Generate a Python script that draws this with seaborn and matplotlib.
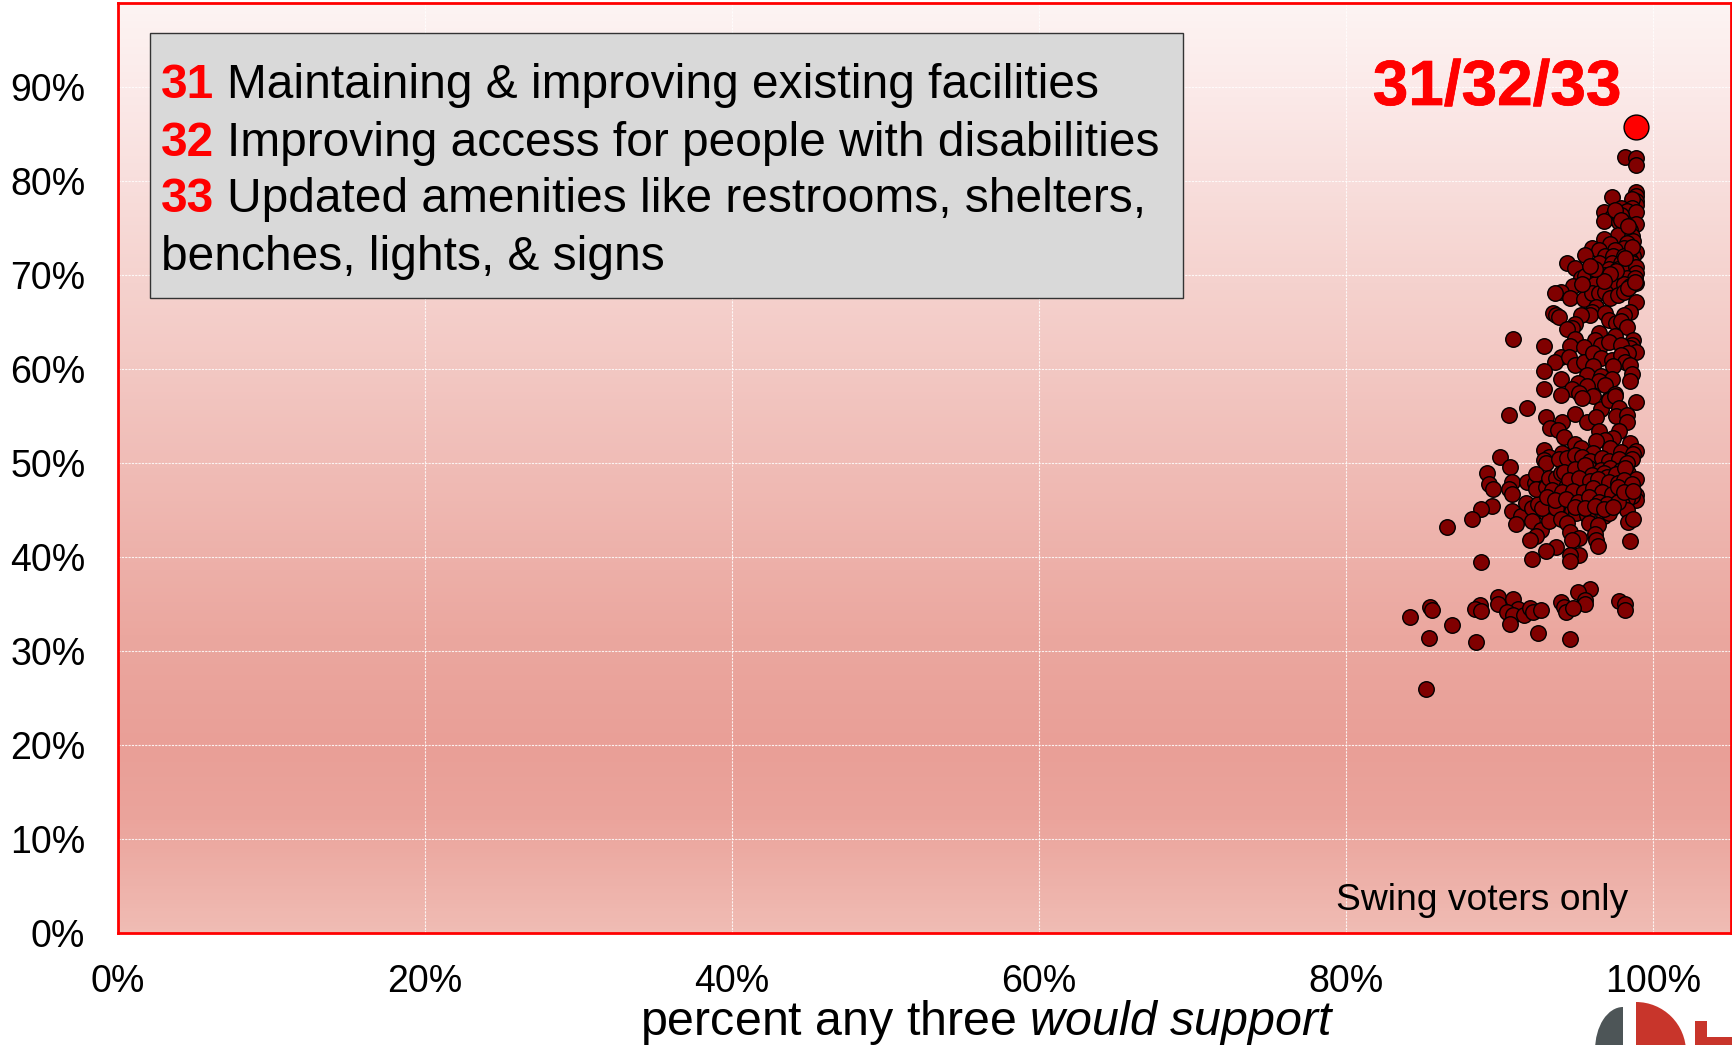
import numpy as np
import pandas as pd
import matplotlib
matplotlib.use("Agg")
import matplotlib.pyplot as plt
import matplotlib.patheffects as pe
from matplotlib.colors import LinearSegmentedColormap
from matplotlib.patches import Wedge, Rectangle
from matplotlib.transforms import Affine2D
import seaborn as sns

sns.set_style("white")
plt.rcParams['font.family'] = ['Liberation Sans', 'DejaVu Sans']
plt.rcParams['mathtext.fontset'] = 'custom'
plt.rcParams['mathtext.it'] = 'Liberation Sans:italic'
plt.rcParams['mathtext.rm'] = 'Liberation Sans'

support_top = [98.2,98.9,98.9]
share_top = [82.6,82.4,81.7]

support_a = [98.9,98.9,98.9,98.9,98.6,97.3,97.9,98.6,98.3,98.9,96.8,97.3,97.6,97.9,96.8,97.8,98.9,98.5,98.2,97.7,98.6,98.7,96.8,97.2,98.3,96.0,98.1,96.5,97.5,98.9,98.7,96.9,97.4,98.1,95.6,98.5,94.4,96.5,97.3,97.9,98.6,94.9,97.1,97.7,98.3,98.9,98.9,95.3,95.6,96.4,96.9,97.5,97.9,98.3,98.8,98.9,94.8,95.6,96.2,97.1,97.6,98.1,98.5,94.0,93.6,94.6,95.5,96.0,96.5,96.9,97.2,97.7,98.1,98.4,98.8]
share_a = [78.8,78.4,77.9,77.5,78.1,78.3,77.1,77.1,76.8,76.7,76.7,76.2,76.3,76.4,75.7,75.6,75.4,74.8,74.5,74.3,74.1,73.6,73.8,73.3,73.4,72.9,72.9,72.7,72.7,72.5,72.0,72.0,72.0,72.0,72.1,71.6,71.3,71.3,71.3,71.3,71.3,70.7,70.6,70.6,70.8,70.9,70.2,69.7,69.9,69.9,70.0,69.7,69.7,69.7,69.7,69.2,68.8,68.8,69.0,69.1,69.0,69.0,68.8,68.2,68.1,67.6,67.5,68.1,68.1,68.2,67.6,67.9,68.2,68.6,69.3]

support_b = [98.9,98.5,98.1,96.3,96.0,95.9,95.3,96.9,97.1,97.6,97.9,98.3,93.5,93.7,93.9,94.9,94.7,94.4,96.5,97.5,96.2,98.7,98.6,98.5,94.9,94.6,95.5,96.6,97.1,97.9,98.9,98.4,92.9,90.9,94.0,93.6,94.5,94.9,95.5,96.1,96.6,97.3,97.9,98.2,98.5,97.4,92.9,96.1,98.6,98.5,94.0,95.7,96.6,97.3,96.5,96.9,92.9,95.1,95.7,94.7,94.0,95.2,96.1,97.1,97.5,98.9,95.4]
share_b = [67.1,66.1,65.7,66.6,66.1,65.7,65.7,66.0,65.2,64.9,65.1,64.5,66.0,65.7,65.5,64.8,64.4,64.3,63.8,63.5,63.1,63.1,62.6,62.2,63.2,62.4,62.3,62.6,62.9,62.6,61.8,61.7,62.4,63.2,61.3,60.7,61.3,60.4,60.8,61.7,61.2,61.0,61.5,60.8,60.4,60.3,59.8,60.3,59.5,58.7,58.9,59.4,59.3,58.9,58.7,58.3,57.9,58.5,58.2,57.9,57.2,57.4,57.1,56.8,57.3,56.5,56.9]

support_c = [90.6,91.8,93.0,94.1,94.9,95.7,96.6,96.3,97.1,97.5,97.8,97.6,98.3,98.3,93.3,93.8,94.2,96.5,97.8,97.4,96.9,98.5,94.9,95.3,96.3,96.1,97.2,97.9,98.9,98.7,92.9,94.1,93.2,92.9,93.0,93.9,94.4,94.9,95.4,95.9,96.7,97.1,97.8,98.6,98.3,90.0,90.7,89.2,89.3,89.6,90.8,90.6,90.8,89.5,88.8,88.2,86.6,90.8,91.4,91.1,91.7,92.1,92.5,92.1,92.7,92.4,92.0,91.8,92.3,92.4,92.4,93.0,93.2,93.7,94.0,93.5,93.2,93.0,93.2,92.8,93.8,94.3,94.6,95.4,95.8,96.6,97.2,97.9,98.4,98.9,94.8,95.3,95.8,96.6,97.2,97.5,97.9,98.3,98.9,98.9,98.6,98.3,98.0,98.3,97.4,96.9,96.5,96.2,95.4,95.0,94.3,93.7,94.7,94.0,95.0,95.7,95.8,96.8,97.1,96.4,96.2,96.3,96.4,98.4,98.7,98.5,94.4,94.6,95.2,94.7,93.7,93.0,92.1,95.2,94.6,94.6,88.8]
share_c = [55.1,55.9,54.9,54.4,55.2,54.4,55.7,54.9,56.7,57.1,55.9,55.0,55.1,54.4,53.7,53.5,52.8,53.4,53.4,52.7,52.4,52.1,52.0,51.6,52.3,51.1,51.6,51.2,51.3,51.0,51.4,51.1,50.6,50.3,50.0,50.4,50.5,50.9,50.6,50.2,50.5,50.2,50.4,50.4,50.0,50.6,49.6,48.9,47.8,47.2,48.0,47.2,46.7,45.4,45.1,44.0,43.2,44.9,44.4,43.5,45.7,45.2,45.6,43.8,42.9,42.2,41.8,48.0,47.9,48.8,47.2,47.5,48.4,48.4,48.9,46.8,45.8,44.7,43.8,45.2,46.5,47.5,48.8,48.9,49.5,49.3,49.5,49.3,48.9,48.3,47.9,47.5,47.2,47.5,47.4,48.2,47.0,47.5,46.6,46.1,46.5,46.2,45.6,45.0,46.6,46.1,46.3,46.8,45.9,46.5,45.6,45.2,44.9,44.0,44.7,44.5,43.6,44.4,44.7,43.4,42.4,41.8,41.2,43.7,44.0,41.7,43.6,42.7,42.0,41.8,41.1,40.6,39.8,40.2,40.2,39.6,39.5]

support_d = [95.9,95.1,95.6,95.6,94.0,94.2,94.3,94.8,97.8,98.2,98.2,89.9,89.9,90.9,91.2,90.5,90.9,90.7,91.6,92.0,92.2,92.7,88.7,88.4,88.8,85.5,85.6,84.2,86.9,85.4,88.5,92.5,94.6,85.2]
share_d = [36.6,36.3,35.4,35.0,35.2,34.7,34.2,34.6,35.3,35.0,34.4,35.7,35.0,35.5,34.5,34.1,33.8,32.9,33.8,34.6,34.1,34.4,34.9,34.5,34.3,34.7,34.4,33.6,32.8,31.4,31.0,31.9,31.3,26.0]

support_fill = [94.2,94.9,95.6,96.0,96.8,97.0,97.6,98.2,94.5,95.2,95.9,96.4,97.1,97.7,98.1,93.4,94.1,94.8,95.5,96.1,96.7,97.3,97.7,98.6,93.1,93.6,94.3,95.1,95.8,96.5,97.0,97.7,94.9,95.6,96.2,96.8,97.4,98.1,98.7,97.5,97.9,98.4,98.6,98.2,97.6,97.2,96.8,96.2,95.9,95.4]
share_fill = [49.0,49.4,49.8,48.7,48.9,48.5,48.8,49.5,48.2,48.4,48.1,48.3,48.0,47.9,48.2,47.1,46.9,47.0,46.9,47.3,46.9,46.7,47.4,47.8,46.4,46.1,46.2,45.9,46.4,45.8,45.6,45.9,45.3,45.2,45.4,45.1,45.3,46.9,47.0,76.9,75.9,75.2,73.0,71.8,70.4,70.1,69.4,70.6,71.0,69.0]

highlight_support = [98.9]
highlight_share = [85.7]

x_ticks = [0, 20, 40, 60, 80, 100]
y_ticks = [0, 10, 20, 30, 40, 50, 60, 70, 80, 90]

legend_rows = [("31", "Maintaining & improving existing facilities"),
               ("32", "Improving access for people with disabilities"),
               ("33", "Updated amenities like restrooms, shelters,"),
               ("", "benches, lights, & signs")]

df = pd.DataFrame({
    "support": support_top + support_a + support_b + support_c + support_d + support_fill,
    "share": share_top + share_a + share_b + share_c + share_d + share_fill,
})
hi = pd.DataFrame({"support": highlight_support, "share": highlight_share})

W, H = 1732, 1045
fig = plt.figure(figsize=(W / 100, H / 100), dpi=100, facecolor="white")
ax = fig.add_axes([118 / W, 1 - 933 / H, (1731 - 118) / W, (933 - 3) / H])

cmap = LinearSegmentedColormap.from_list("bg", [
    (0.00, "#fdf4f3"), (0.10, "#fbe9e8"), (0.30, "#f5d2ce"), (0.50, "#f0bcb6"),
    (0.68, "#eba79f"), (0.80, "#e99f97"), (0.88, "#eba49c"), (1.00, "#f0bcb4")])
ax.imshow(np.linspace(0, 1, 256).reshape(-1, 1), aspect="auto", cmap=cmap,
          extent=(0, 105.08, 0, 98.94), origin="upper", zorder=0)

ax.set_axisbelow(False)
ax.grid(True, color="white", lw=0.8, ls=(0, (2, 1)), alpha=0.85)
for line in ax.get_xgridlines() + ax.get_ygridlines():
    line.set_zorder(1)

sns.scatterplot(data=df, x="support", y="share", ax=ax, s=125, color="#800000",
                edgecolor="black", linewidth=1, zorder=3, legend=False)
sns.scatterplot(data=hi, x="support", y="share", ax=ax, s=320, color="#ff0000",
                edgecolor="black", linewidth=1, zorder=4, legend=False)

ax.set_xlim(0, 105.08)
ax.set_ylim(0, 98.94)
ax.set_xticks(x_ticks)
ax.set_yticks(y_ticks)
ax.set_xticklabels([f"{v}%" for v in x_ticks], fontsize=27)
ax.set_yticklabels([f"{v}%" for v in y_ticks], fontsize=27)
ax.tick_params(axis="both", length=0, colors="black")
ax.tick_params(axis="x", pad=22)
ax.tick_params(axis="y", pad=23.5)
ax.set_xlabel("")
ax.set_ylabel("")
for s in ax.spines.values():
    s.set_visible(True)
    s.set_color("#ff0000")
    s.set_linewidth(2)
    s.set_zorder(5)

# legend box
fig.patches.append(Rectangle((150 / W, 1 - 298 / H), (1183 - 150) / W, (298 - 33) / H,
                             transform=fig.transFigure, facecolor="#d9d9d9",
                             edgecolor="#333333", lw=1, zorder=6))
line_y = [85, 143, 200, 258]
for (num, txt), y in zip(legend_rows, line_y):
    yf = 1 - y / H
    if num:
        t = fig.text(161 / W, yf, num, color="#ff0000", fontsize=34.5, fontweight="bold",
                     va="center", zorder=7)
        fig.canvas.draw()
        bb = t.get_window_extent()
        fig.text((bb.x1 + 13) / W, yf, txt, color="black", fontsize=34.5, va="center", zorder=7)
    else:
        fig.text(161 / W, yf, txt, color="black", fontsize=34.5, va="center", zorder=7)

fig.text(1497 / W, 1 - 88 / H, "31/32/33", color="#ff0000", fontsize=46, fontweight="bold",
         ha="center", va="center", zorder=7,
         path_effects=[pe.withStroke(linewidth=0.5, foreground="#ff0000")])
fig.text(1482 / W, 1 - 900 / H, "Swing voters only", color="black", fontsize=26.8,
         ha="center", va="center", zorder=7)
fig.text(987 / W, 1 - 1035 / H, r"percent any three $\mathit{would\ support}$", color="black",
         fontsize=34.8, ha="center", va="baseline")

# logo, cut by the lower edge of the figure
logo_red = "#c8352b"
fig.patches.append(Wedge((1636, H - 1052), 50, 0, 90, transform=None,
                         facecolor=logo_red, edgecolor="none"))
fig.patches.append(Wedge((0, 0), 43, 90, 180,
                         transform=Affine2D().scale(0.65, 1).translate(1623, H - 1050),
                         facecolor="#4d5557", edgecolor="none"))
fig.patches.append(Rectangle((1695, H - 1045), 12, 24, transform=None,
                             facecolor=logo_red, edgecolor="none"))
fig.patches.append(Rectangle((1707, H - 1045), 25, 8, transform=None,
                             facecolor=logo_red, edgecolor="none"))

fig.savefig("out.png", dpi=100, facecolor="white")
